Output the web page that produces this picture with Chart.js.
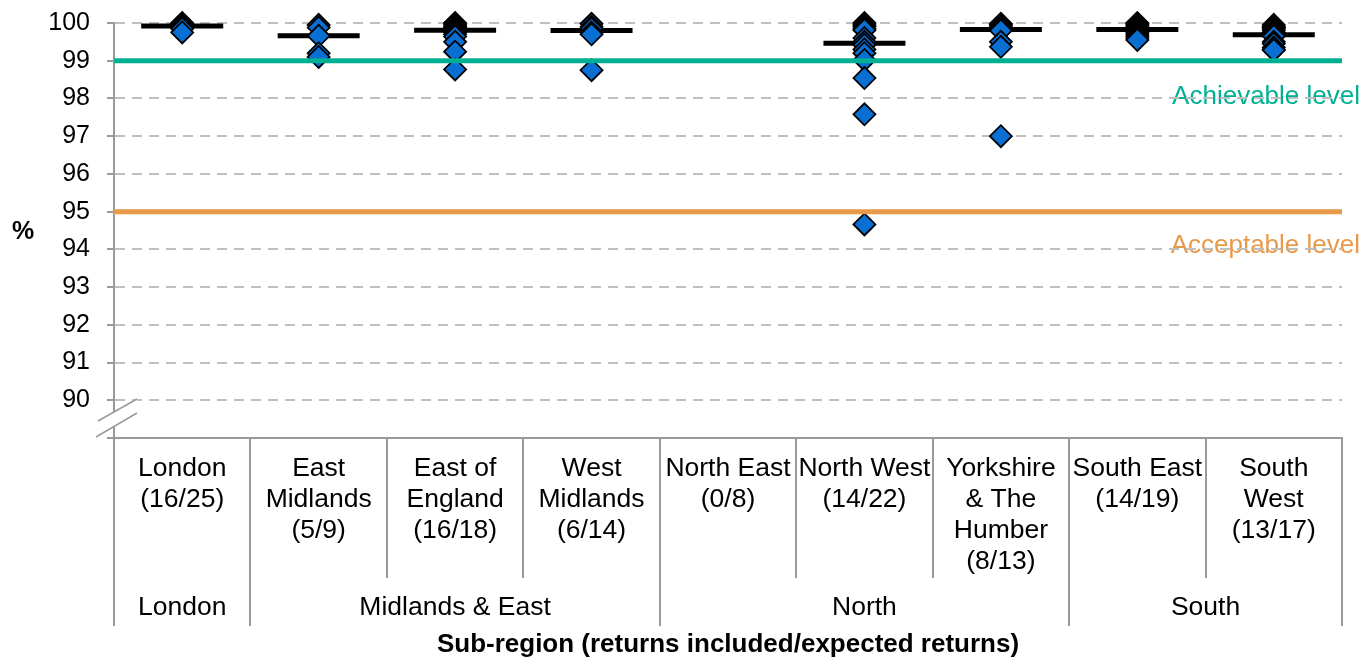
<!DOCTYPE html>
<html>
<head>
<meta charset="utf-8">
<script src="https://cdn.jsdelivr.net/npm/chart.js@4/dist/chart.umd.min.js"></script>
<style>
  body { margin: 0; background: #fff; }
  #wrap { width: 1362px; height: 659px; position: relative; }
</style>
</head>
<body>
<div id="wrap"><canvas id="chart"></canvas></div>
<script>
// sub-region labels (lines) and the region they belong to
const subRegions = [
  ["London", "(16/25)"],
  ["East", "Midlands", "(5/9)"],
  ["East of", "England", "(16/18)"],
  ["West", "Midlands", "(6/14)"],
  ["North East", "(0/8)"],
  ["North West", "(14/22)"],
  ["Yorkshire", "& The", "Humber", "(8/13)"],
  ["South East", "(14/19)"],
  ["South", "West", "(13/17)"]
];
const regions = ["London", "Midlands & East", "North", "South"];
const regionSpans = [1, 3, 3, 2];

// % values per trust return
const londonValues = [100, 99.98, 99.95, 99.92, 99.9, 99.85, 99.75];
const eastMidlandsValues = [99.95, 99.88, 99.66, 99.2, 99.1];
const eastOfEnglandValues = [100, 99.98, 99.95, 99.9, 99.88, 99.85, 99.82, 99.81, 99.8, 99.75, 99.7, 99.64, 99.5, 99.24, 98.77];
const westMidlandsValues = [99.98, 99.9, 99.85, 99.75, 99.7, 98.75];
const northEastValues = [];
const northWestValues = [100, 99.95, 99.9, 99.85, 99.81, 99.6, 99.5, 99.42, 99.3, 99.2, 99.02, 98.54, 97.58, 94.66];
const yorkshireValues = [99.98, 99.95, 99.9, 99.85, 99.8, 99.5, 99.37, 97.0];
const southEastValues = [100, 99.98, 99.95, 99.9, 99.88, 99.85, 99.84, 99.82, 99.8, 99.75, 99.7, 99.65, 99.6, 99.55];
const southWestValues = [99.95, 99.9, 99.88, 99.85, 99.8, 99.75, 99.7, 99.65, 99.5, 99.45, 99.35, 99.3, 99.28];

const medians = [99.92, 99.66, 99.81, 99.8, null, 99.46, 99.83, 99.83, 99.69];

const achievableLevel = 99;
const acceptableLevel = 95;
const yTicks = [90, 91, 92, 93, 94, 95, 96, 97, 98, 99, 100];

const allValues = [londonValues, eastMidlandsValues, eastOfEnglandValues, westMidlandsValues,
  northEastValues, northWestValues, yorkshireValues, southEastValues, southWestValues];

const pointData = [];
allValues.forEach((vals, i) => vals.forEach(v => pointData.push({ x: i + 0.5, y: v })));
const medianData = [];
medians.forEach((m, i) => { if (m !== null) medianData.push({ x: i + 0.5, y: m }); });

const TEAL = "#00B092";
const ORANGE = "#E8994A";
const AXIS = "#9A9A9A";
const FONT = "'Liberation Sans', Arial, sans-serif";

// draws level labels under the grid
const levelLabels = {
  id: "levelLabels",
  beforeDraw(chart) {
    const ctx = chart.ctx;
    ctx.save();
    ctx.font = "26px " + FONT;
    ctx.textAlign = "right";
    ctx.textBaseline = "middle";
    ctx.fillStyle = TEAL;
    ctx.fillText("Achievable level", 1360, 97);
    ctx.fillStyle = ORANGE;
    ctx.fillText("Acceptable level", 1360, 246);
    ctx.restore();
  }
};

// category table under the x axis, axis break, "%" and axis title
const tablePlugin = {
  id: "tablePlugin",
  afterDraw(chart) {
    const ctx = chart.ctx;
    const xs = chart.scales.x;
    const area = chart.chartArea;
    const top = area.bottom;
    const subBottom = 578;
    const regBottom = 626;
    ctx.save();

    // axis break
    ctx.fillStyle = "#fff";
    ctx.beginPath();
    ctx.moveTo(98, 421); ctx.lineTo(137, 399); ctx.lineTo(137, 413); ctx.lineTo(96, 437);
    ctx.closePath();
    ctx.fill();
    ctx.strokeStyle = AXIS;
    ctx.lineWidth = 1.5;
    ctx.beginPath();
    ctx.moveTo(98, 421); ctx.lineTo(137, 399);
    ctx.moveTo(96, 437); ctx.lineTo(137, 413);
    ctx.stroke();

    // vertical separators
    const regionEdges = [0];
    regionSpans.reduce((acc, s) => { regionEdges.push(acc + s); return acc + s; }, 0);
    ctx.strokeStyle = AXIS;
    ctx.lineWidth = 2;
    for (let i = 0; i <= subRegions.length; i++) {
      const x = Math.round(xs.getPixelForValue(i));
      const bottom = regionEdges.includes(i) ? regBottom : subBottom;
      ctx.beginPath();
      ctx.moveTo(x, top);
      ctx.lineTo(x, bottom);
      ctx.stroke();
    }

    // sub-region labels
    ctx.fillStyle = "#000";
    ctx.font = "26.5px " + FONT;
    ctx.textAlign = "center";
    ctx.textBaseline = "middle";
    subRegions.forEach((lines, i) => {
      const cx = xs.getPixelForValue(i + 0.5);
      lines.forEach((t, j) => ctx.fillText(t, cx, 469 + j * 31));
    });

    // region labels
    regions.forEach((r, k) => {
      const cx = (xs.getPixelForValue(regionEdges[k]) + xs.getPixelForValue(regionEdges[k + 1])) / 2;
      ctx.fillText(r, cx, 608);
    });

    // axis titles
    ctx.font = "bold 26px " + FONT;
    ctx.fillText("Sub-region (returns included/expected returns)", (area.left + area.right) / 2, 645);
    ctx.font = "bold 25px " + FONT;
    ctx.fillText("%", 23, 232);
    ctx.restore();
  }
};

new Chart(document.getElementById("chart"), {
  type: "scatter",
  data: {
    datasets: [
      {
        type: "line",
        data: [{ x: 0, y: achievableLevel }, { x: 9, y: achievableLevel }],
        borderColor: TEAL,
        borderWidth: 5,
        pointRadius: 0,
        clip: false,
        order: 0
      },
      {
        type: "line",
        data: [{ x: 0, y: acceptableLevel }, { x: 9, y: acceptableLevel }],
        borderColor: ORANGE,
        borderWidth: 5,
        pointRadius: 0,
        clip: false,
        order: 0
      },
      {
        data: pointData,
        pointStyle: "rectRot",
        pointRadius: 11,
        backgroundColor: "#0A6FD3",
        borderColor: "#000",
        borderWidth: 1.8,
        clip: false,
        order: 1
      },
      {
        data: medianData,
        pointStyle: "line",
        pointRadius: 41,
        borderColor: "#000",
        borderWidth: 5,
        clip: false,
        order: 2
      }
    ]
  },
  options: {
    responsive: true,
    maintainAspectRatio: false,
    animation: false,
    events: [],
    layout: { autoPadding: false, padding: { top: 23, right: 20, left: 0, bottom: 0 } },
    plugins: { legend: { display: false }, tooltip: { enabled: false } },
    scales: {
      x: {
        type: "linear",
        min: 0,
        max: subRegions.length,
        grid: { display: false },
        ticks: { display: false },
        border: { color: AXIS, width: 2 },
        afterFit: s => { s.height = 221; s.paddingLeft = 0; s.paddingRight = 0; }
      },
      y: {
        min: 89,
        max: 100,
        afterBuildTicks: s => { s.ticks = [89].concat(yTicks).map(v => ({ value: v })); },
        ticks: {
          padding: 17,
          color: "#000",
          font: { family: FONT, size: 25 },
          callback: v => (yTicks.includes(v) ? String(v) : "")
        },
        grid: {
          color: c => (c.tick && c.tick.value === 89 ? "rgba(0,0,0,0)" : "#BFBFBF"),
          lineWidth: 2,
          tickLength: 7,
          tickColor: AXIS
        },
        border: { color: AXIS, width: 2, dash: [10, 7] },
        afterFit: s => { s.width = 114; s.paddingTop = 0; s.paddingBottom = 0; }
      }
    }
  },
  plugins: [levelLabels, tablePlugin]
});
</script>
</body>
</html>
